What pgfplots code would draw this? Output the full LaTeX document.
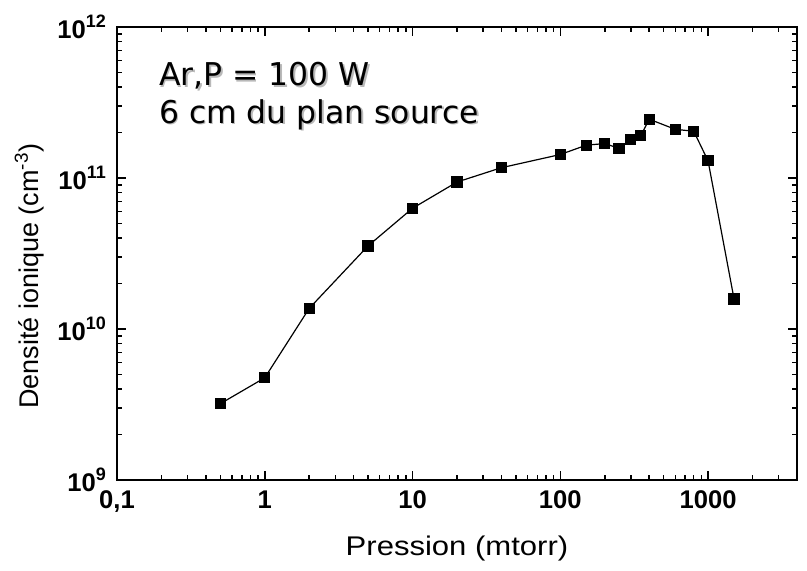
\documentclass[border=0pt]{standalone}
\usepackage{fontspec}
\setmainfont{Liberation Sans}
\newfontfamily\verdanalike{DejaVu Sans}
\usepackage{pgfplots}
\pgfplotsset{compat=1.18}

\newcommand{\dec}[1]{10\raisebox{0.42em}{\fontsize{9}{9}\selectfont #1}}

\begin{document}
\begin{tikzpicture}
\begin{axis}[
  scale only axis, width=340pt, height=226.5pt,
  xmode=log, ymode=log,
  xmin=0.1, xmax=4000, ymin=1e9, ymax=1e12,
  xtick={0.1,1,10,100,1000},
  xticklabels={{0,1},1,10,100,1000},
  minor xtick={0.2,0.3,0.4,0.5,0.6,0.7,0.8,0.9,2,3,4,5,6,7,8,9,20,30,40,50,60,70,80,90,200,300,400,500,600,700,800,900,2000,3000},
  ytick={1e9,1e10,1e11,1e12},
  yticklabels={\dec{9},\dec{10},\dec{11},\dec{12}},
  minor ytick={2e9,3e9,4e9,5e9,6e9,7e9,8e9,9e9,2e10,3e10,4e10,5e10,6e10,7e10,8e10,9e10,2e11,3e11,4e11,5e11,6e11,7e11,8e11,9e11},
  tick align=inside,
  major tick length=4.5pt, minor tick length=2.5pt,
  every tick/.style={black, line width=0.75pt},
  axis line style={line width=1.2pt},
  ticklabel style={font=\bfseries\fontsize{12.8}{14}\selectfont},
  xticklabel style={yshift=-2pt},
  yticklabel style={xshift=-2pt},
  xlabel={Pression (mtorr)},
  ylabel={Densité ionique (cm\textsuperscript{-3})},
  label style={font=\fontsize{13.5}{16}\selectfont},
  xlabel style={at={(axis description cs:0.5,-0.152)}, anchor=center, font=\fontsize{13.5}{16}\selectfont\addfontfeatures{FakeStretch=1.15}},
  ylabel style={at={(axis description cs:-0.129,0.45)}, anchor=center},
]
\addplot[black, line width=0.6pt, mark=square*, mark size=2.5pt, mark options={solid}]
  coordinates {
  (0.5,3.2e9) (1,4.75e9) (2,1.37e10) (5,3.55e10) (10,6.3e10) (20,9.4e10)
  (40,1.17e11) (100,1.43e11) (150,1.65e11) (200,1.69e11) (250,1.57e11)
  (300,1.8e11) (350,1.9e11) (400,2.45e11) (600,2.1e11) (800,2.04e11)
  (1000,1.3e11) (1500,1.58e10)
  };
\node[anchor=base west, text=gray!55, font=\verdanalike\fontsize{15.7}{19}\selectfont]
  at ([xshift=0.8pt,yshift=-0.8pt]rel axis cs:0.0515,0.870) {Ar,P = 100 W};
\node[anchor=base west, font=\verdanalike\fontsize{15.7}{19}\selectfont]
  at (rel axis cs:0.0515,0.870) {Ar,P = 100 W};
\node[anchor=base west, text=gray!55, font=\verdanalike\fontsize{15.7}{19}\selectfont]
  at ([xshift=0.8pt,yshift=-0.8pt]rel axis cs:0.0515,0.788) {6 cm du plan source};
\node[anchor=base west, font=\verdanalike\fontsize{15.7}{19}\selectfont]
  at (rel axis cs:0.0515,0.788) {6 cm du plan source};
\end{axis}
\pgfresetboundingbox
\path[use as bounding box] (current axis.south west) ++(-58.5pt,-45pt) rectangle ++(403.5pt,285pt);
\end{tikzpicture}
\end{document}
